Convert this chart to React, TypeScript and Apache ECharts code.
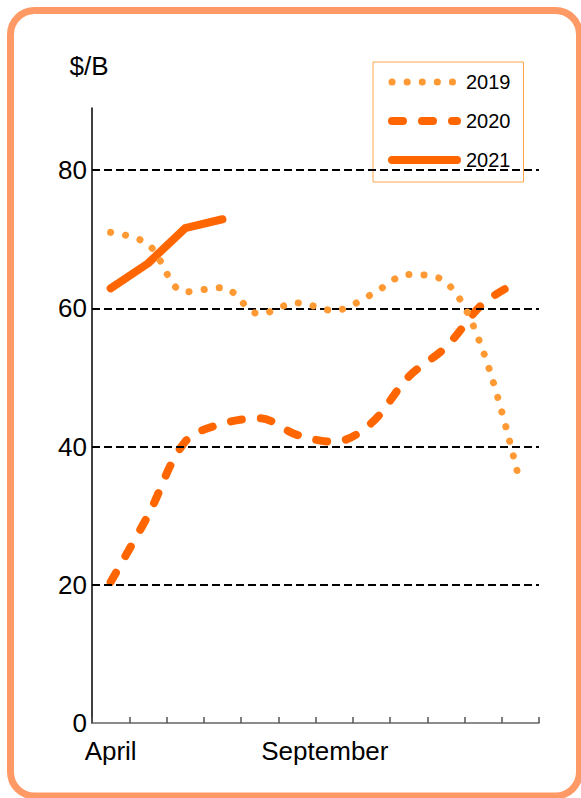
import React, { useEffect, useRef } from "react";
import * as echarts from "echarts";

// Fiscal-year months, April through March
const months = [
  "April", "May", "June", "July", "August", "September",
  "October", "November", "December", "January", "February", "March",
];
const shownMonthLabels = ["April", "September"];

// Monthly price, $/B
const price2019 = [71, 69.3, 62.4, 63, 59.2, 60.8, 59.7, 62, 64.9, 63.8, 53.8, 34.5];
const price2020 = [20.4, 30, 40.7, 43.3, 44.1, 41.7, 40.7, 43.4, 50.1, 54.4, 60.7, 64];
const price2021 = [62.9, 66.5, 71.6, 72.9, null, null, null, null, null, null, null, null];

const yTicks = [20, 40, 60, 80];
const yMax = 89;

const FONT = "'Liberation Sans', Arial, Helvetica, sans-serif";
const DARK_ORANGE = "#FF6600";
const LIGHT_ORANGE = "#FF9933";

const style2019 = { color: LIGHT_ORANGE, width: 7, type: [0.1, 15], cap: "round", join: "round" };
const style2020 = { color: DARK_ORANGE, width: 8, type: [11, 19], cap: "round", join: "round" };
const style2021 = { color: DARK_ORANGE, width: 8, type: "solid", cap: "round", join: "round" };

export default function App() {
  const ref = useRef<HTMLDivElement>(null);

  useEffect(() => {
    if (!ref.current) return;
    const chart = echarts.init(ref.current, undefined, { renderer: "svg" });

    const legendItem = (name: string, ls: any) => ({
      name,
      itemStyle: { opacity: 0 },
      lineStyle: { ...ls },
    });

    chart.setOption({
      animation: false,
      backgroundColor: "#ffffff",
      textStyle: { fontFamily: FONT, color: "#000" },
      grid: { left: 92, right: 42, top: 108, bottom: 75, containLabel: false },
      graphic: [
        {
          type: "rect",
          shape: { x: 10.5, y: 10.5, width: 569, height: 785.5, r: 24 },
          style: { fill: "none", stroke: "#FF9966", lineWidth: 7 },
          z: 100,
          silent: true,
        },
      ],
      legend: {
        orient: "vertical",
        left: 373,
        top: 62,
        padding: [10, 13, 12, 15],
        itemWidth: 65,
        itemHeight: 14,
        itemGap: 19,
        backgroundColor: "#ffffff",
        borderColor: "#FFA64D",
        borderWidth: 1,
        borderRadius: 0,
        data: [
          legendItem("2019", style2019),
          legendItem("2020", style2020),
          legendItem("2021", style2021),
        ],
        textStyle: { fontFamily: FONT, fontSize: 20, color: "#000", padding: [0, 0, 0, 4] },
      },
      xAxis: {
        type: "category",
        data: months,
        boundaryGap: true,
        axisLine: { show: true, lineStyle: { color: "#666", width: 1.5 } },
        axisTick: {
          show: true,
          inside: true,
          length: 6,
          interval: 0,
          lineStyle: { color: "#555", width: 1.5 },
        },
        axisLabel: {
          interval: 0,
          margin: 15,
          fontFamily: FONT,
          fontSize: 26,
          color: "#000",
          formatter: (v: string) => {
            if (!shownMonthLabels.includes(v)) return "";
            return v === "September" ? "{shift|" + v + "}" : v;
          },
          rich: {
            shift: { fontFamily: FONT, fontSize: 26, color: "#000", padding: [0, 0, 0, 56] },
          },
        },
        splitLine: { show: false },
      },
      yAxis: {
        type: "value",
        min: 0,
        max: yMax,
        interval: 20,
        name: "$/B",
        nameLocation: "end",
        nameGap: 29,
        nameTextStyle: { fontFamily: FONT, fontSize: 26, color: "#000", align: "center", padding: [0, 6, 0, 0] },
        axisLine: { show: true, lineStyle: { color: "#000", width: 1.5 } },
        axisTick: { show: false },
        axisLabel: {
          margin: 5,
          fontFamily: FONT,
          fontSize: 26,
          color: "#000",
          showMaxLabel: false,
        },
        splitLine: { show: false },
      },
      series: [
        {
          // dashed horizontal gridlines
          name: "grid",
          type: "line",
          data: months.map(() => null),
          symbol: "none",
          z: 1,
          silent: true,
          markLine: {
            silent: true,
            symbol: ["none", "none"],
            label: { show: false },
            lineStyle: { color: "#000", width: 2, type: [8, 4] },
            data: yTicks.map((v) => ({ yAxis: v })),
          },
        },
        {
          name: "2020",
          type: "line",
          data: price2020,
          smooth: 0.35,
          symbol: "none",
          z: 3,
          lineStyle: style2020,
          itemStyle: { color: DARK_ORANGE },
        },
        {
          name: "2021",
          type: "line",
          data: price2021,
          smooth: false,
          symbol: "none",
          z: 4,
          lineStyle: style2021,
          itemStyle: { color: DARK_ORANGE },
        },
        {
          name: "2019",
          type: "line",
          data: price2019,
          smooth: 0.35,
          symbol: "none",
          z: 5,
          lineStyle: style2019,
          itemStyle: { color: LIGHT_ORANGE },
        },
      ],
    });

    return () => chart.dispose();
  }, []);

  return (
    <div
      ref={ref}
      style={{ position: "fixed", left: 0, top: 0, width: 581, height: 798, background: "#fff" }}
    />
  );
}
